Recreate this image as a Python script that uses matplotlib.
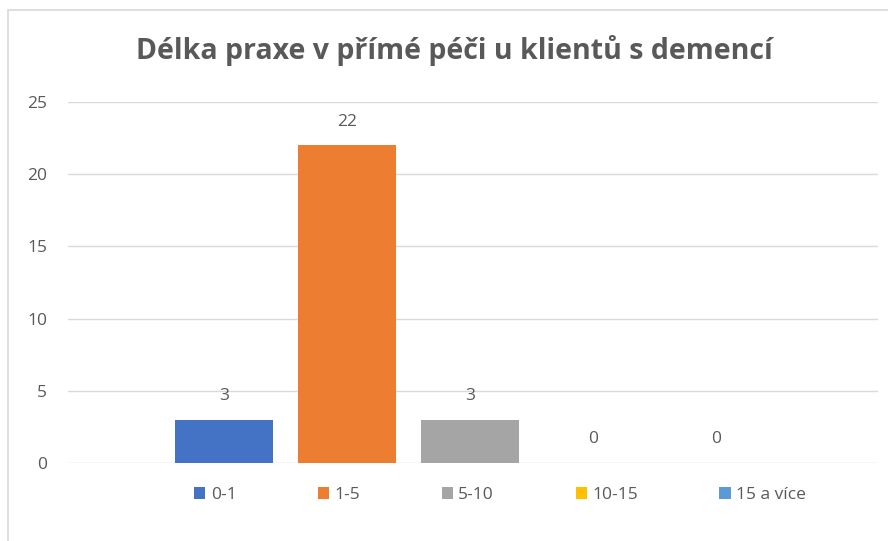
import matplotlib.pyplot as plt
from matplotlib.patches import Rectangle, Patch

# Data
categories = ["0-1", "1-5", "5-10", "10-15", "15 a více"]
values = [3, 22, 3, 0, 0]
colors = ["#4472C4", "#ED7D31", "#A5A5A5", "#FFC000", "#5B9BD5"]
yticks = [0, 5, 10, 15, 20, 25]

plt.rcParams['font.family'] = ['Open Sans', 'DejaVu Sans']
text_gray = "#595959"

fig = plt.figure(figsize=(8.88, 5.41), dpi=100)

# chart border like the Excel frame
fig.patches.append(Rectangle((8 / 888, -0.05), 1.0, 1 - 10 / 541 + 0.05,
                             transform=fig.transFigure, fill=False,
                             edgecolor="#d9d9d9", linewidth=1.2))

ax = fig.add_axes([68 / 888, 1 - 463 / 541, 810 / 888, 361 / 541])

xs = list(range(len(categories)))
bars = ax.bar(xs, values, width=0.8, color=colors, zorder=3)

for x, v in zip(xs, values):
    ax.annotate(str(v), (x, v), xytext=(0, 17), textcoords="offset points",
                ha="center", va="center", fontsize=12.5, color=text_gray)

ax.set_xlim(-1.268, 5.317)
ax.set_ylim(0, 25)
ax.set_yticks(yticks)
ax.set_xticks([])
ax.yaxis.grid(True, color="#d9d9d9", linewidth=1.0, zorder=0)
for s in ax.spines.values():
    s.set_visible(False)
ax.tick_params(axis="y", length=0, pad=15, labelsize=12.5, labelcolor=text_gray)

fig.text(0.512, 1 - 50 / 541, "Délka praxe v přímé péči u klientů s demencí",
         ha="center", va="center", fontsize=20.5, fontweight="bold", color=text_gray)

handles = [Patch(facecolor=c, edgecolor="none") for c in colors]
fig.legend(handles, categories, loc="center", bbox_to_anchor=(500 / 888, 1 - 495 / 541),
           ncol=5, frameon=False, fontsize=12.5, labelcolor=text_gray,
           handlelength=0.65, handleheight=0.7, handletextpad=0.3, columnspacing=4.7)

fig.savefig("out.png", dpi=100)
